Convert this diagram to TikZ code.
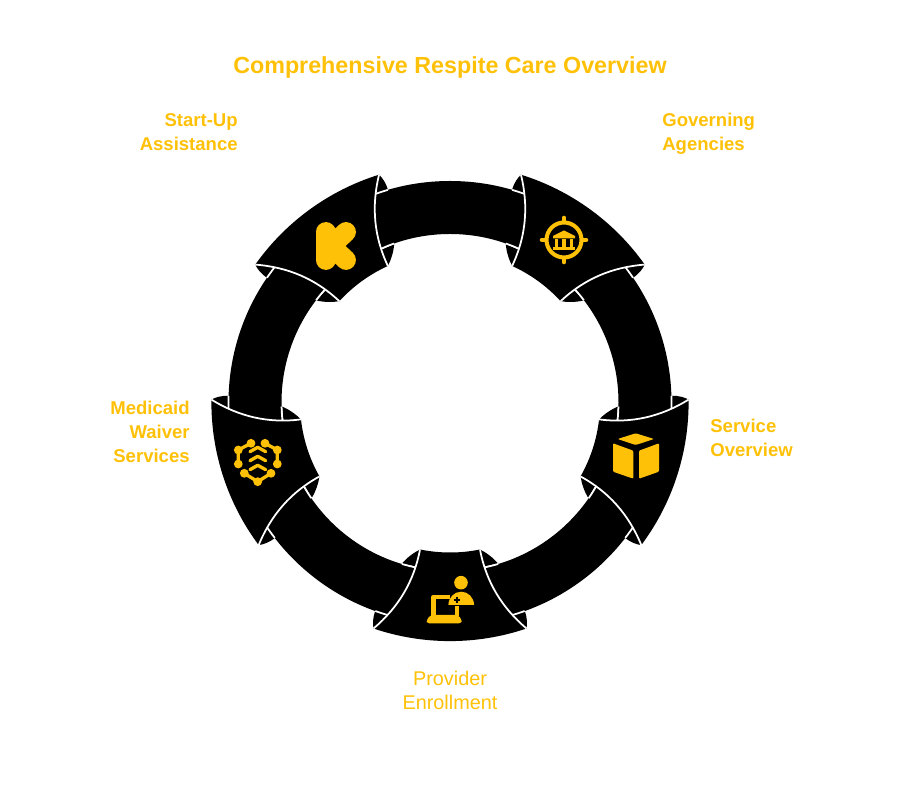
\documentclass[tikz,border=0pt]{standalone}
\usepackage{fontspec}
\setmainfont{Liberation Sans}
\usepackage{xcolor}
\definecolor{iconyellow}{HTML}{FFC107}

\begin{document}
\begin{tikzpicture}[
  x=0.02cm, y=0.02cm,
  edgeline/.style={draw=white, line width=1pt},
  icon/.style={fill=iconyellow},
  iconline/.style={draw=iconyellow, line cap=round, line join=round, line width=1.9pt},
  title/.style={font=\fontsize{13.25}{16}\selectfont\bfseries, text=iconyellow, inner sep=0pt},
  label/.style={font=\fontsize{10.55}{13.6}\selectfont\bfseries, text=iconyellow, inner sep=0pt},
]
  \useasboundingbox (0,0) rectangle (900,811);

  % Ring
  \fill[even odd rule] (450,408.5) circle[radius=221.5] (450,408.5) circle[radius=168.5];

  % Heads, drawn once and turned round the ring
  \foreach \a in {0,72,...,288} {
    \begin{scope}[shift={(450,408.5)}, rotate=\a]
      \foreach \s in {1,-1} {
        \begin{scope}[xscale=\s]
          \fill (30,-147) .. controls (36,-150) and (43,-155) .. (48,-161) -- (34,-164) -- cycle;
          \fill (76.5,-226) .. controls (77.5,-221) and (77,-215) .. (75,-209) -- (60,-213) -- cycle;
          \draw[edgeline] (-73.4:168.5) arc[start angle=-73.4, end angle=-79, radius=168.5];
          \draw[edgeline] (-70.3:221.5) arc[start angle=-70.3, end angle=-75, radius=221.5];
        \end{scope}
      }
      \fill (76.5,-226) .. controls (51.7,-205) and (36,-179) .. (30,-147)
        arc[start angle=-78.5, end angle=-101.5, radius=150]
        .. controls (-36,-179) and (-51.7,-205) .. (-76.5,-226)
        arc[start angle=-108.7, end angle=-71.3, radius=238.6] -- cycle;
      \draw[edgeline] (76.5,-226) .. controls (51.7,-205) and (36,-179) .. (30,-147);
      \draw[edgeline] (-76.5,-226) .. controls (-51.7,-205) and (-36,-179) .. (-30,-147);
    \end{scope}
  }

  % Everything below is placed in image pixels
  \begin{scope}[shift={(0,811)}, yscale=-1]
    % Start-up icon
    \draw[iconline, line width=11.3pt] (325.7,232) -- (325.7,260);
    \draw[iconline, line width=11.3pt] (346,232) -- (331,246) -- (346,260);

    % Agencies icon
    \draw[iconline, line width=2.3pt] (564,240) circle[radius=17.5];
    \foreach \r in {0,90,180,270}
      \draw[iconline, line width=2.6pt] (564,240) ++(\r:18.5) -- ++(\r:3.5);
    \fill[icon] (564,230.5) -- (575,236) -- (575,238.5) -- (553,238.5) -- (553,236) -- cycle;
    \foreach \c in {556.5,564,571.5}
      \fill[icon] (\c-1.6,239) rectangle (\c+1.6,247.5);
    \fill[icon] (553,247) rectangle (575,250.5);

    % Service icon
    \fill[icon, rounded corners=0.6pt] (617.7,439) -- (635.7,433.3) -- (654,439) -- (635.7,445) -- cycle;
    \fill[icon, rounded corners=0.6pt] (613,443.3) -- (633.3,450.7) -- (633.3,478.7) -- (613,471.7) -- cycle;
    \fill[icon, rounded corners=0.6pt] (639,450.7) -- (659,443.3) -- (659,471.7) -- (639,478.7) -- cycle;

    % Provider icon
    \fill[icon] (461,582.7) circle[radius=6.8];
    \fill[icon] (448.4,605) arc[start angle=180, end angle=360, x radius=12.8, y radius=13.3] -- cycle;
    \fill[black] (455.9,596.8) rectangle (457.5,603.2);
    \fill[black] (453.6,599.2) rectangle (459.8,600.8);
    \draw[iconline, line width=2.6pt, line cap=butt] (450,597) -- (433.5,597) -- (433.5,616);
    \draw[iconline, line width=2.6pt, line cap=butt] (457,606) -- (457,616);
    \fill[icon, rounded corners=1.5pt] (430.7,615) -- (458,615) -- (462,620) -- (461,623.5)
      -- (427,623.5) -- (426.5,620) -- cycle;

    % Medicaid icon
    \draw[iconline] (251,443.3) -- (238.3,450) -- (238.3,464);
    \draw[iconline] (265,443.3) -- (277.3,450) -- (277.3,464);
    \draw[iconline] (244.3,473.3) -- (257.7,481.7) -- (271,473.3);
    \foreach \px/\py in {251/443.3,265/443.3,277.3/450,277.3/464,271/473.3,257.7/481.7,244.3/473.3,238.3/464,238.3/450}
      \fill[icon] (\px,\py) circle[radius=4.4];
    \foreach \py in {450,459,468}
      \draw[iconline] (250,\py+1.7) -- (257.7,\py-2.7) -- (265.7,\py+1.7);

    % Texts
    \node[title] (title) at (450,67) {Comprehensive Respite Care Overview};
    \node[label, anchor=east, align=right] (startup) at (238,132) {Start-Up\\Assistance};
    \node[label, anchor=west, align=left] (governing) at (662,134) {Governing\\Agencies};
    \node[label, anchor=west, align=left] (service) at (710,438) {Service\\Overview};
    \node[label, align=center, font=\fontsize{11.3}{13.6}\selectfont] (provider) at (450,690) {Provider\\Enrollment};
    \node[label, anchor=east, align=right] (medicaid) at (190,432) {Medicaid\\Waiver\\Services};
  \end{scope}
\end{tikzpicture}
\end{document}
